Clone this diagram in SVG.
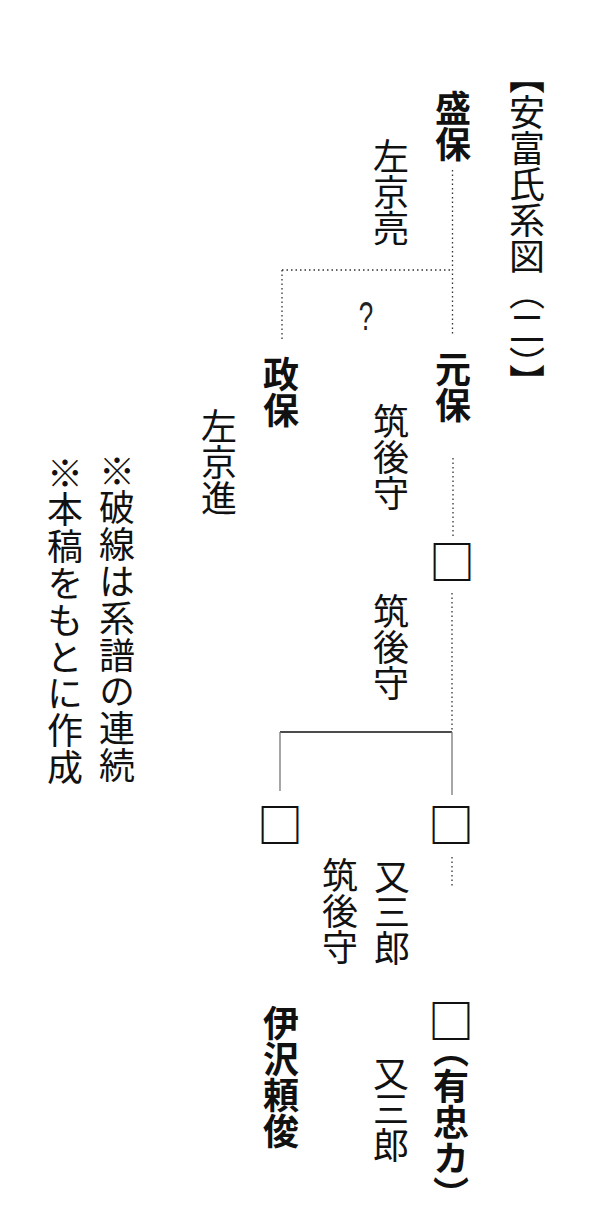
<svg xmlns="http://www.w3.org/2000/svg" width="598" height="1212" viewBox="0 0 598 1212">
<style>
.t{font-family:"Noto Sans CJK JP","Noto Sans CJK SC",sans-serif;font-size:36px;fill:#111;writing-mode:vertical-rl;}
.b{font-weight:700;}
.r{font-weight:400;}
.box{font-size:46px;}
.dot{stroke:#333;stroke-width:1.3;stroke-dasharray:1.5 3;fill:none;}
.solid{stroke:#111;stroke-width:1.6;fill:none;}
.thin{stroke:#777;stroke-width:1.3;fill:none;}
</style>
<rect width="598" height="1212" fill="#fff"/>
<g id="connectors">
<line class="dot" x1="452.5" y1="170" x2="452.5" y2="336"/>
<line class="dot" x1="282" y1="270" x2="452.5" y2="270"/>
<line class="dot" x1="282" y1="270" x2="282" y2="340"/>
<line class="dot" x1="453" y1="458" x2="453" y2="536"/>
<line class="dot" x1="452" y1="593" x2="452" y2="732"/>
<line class="solid" x1="280" y1="732" x2="452" y2="732"/>
<line class="thin" x1="452" y1="732" x2="452" y2="795"/>
<line class="thin" x1="280" y1="732" x2="280" y2="791"/>
<line class="dot" x1="452" y1="857" x2="452" y2="886"/>
</g>
<g id="title">
<text class="t r" x="527" y="58">【安富氏系図（二）】</text>
</g>
<g id="moriyasu">
<text class="t b" x="453" y="90">盛保</text>
<text class="t r" x="391" y="138">左京亮</text>
</g>
<g id="question">
<text transform="translate(366,330) scale(0.65,1)" x="0" y="0" font-family="Liberation Sans, sans-serif" font-size="40" text-anchor="middle" fill="#222">?</text>
</g>
<g id="motoyasu">
<text class="t b" x="453" y="351">元保</text>
<text class="t r" x="391" y="403">筑後守</text>
</g>
<g id="masayasu">
<text class="t b" x="281" y="356">政保</text>
<text class="t r" x="219" y="408">左京進</text>
</g>
<g id="box1">
<text class="t b box" x="452" y="539">□</text>
<text class="t r" x="391" y="593">筑後守</text>
</g>
<g id="box2">
<text class="t b box" x="451" y="802">□</text>
<text class="t r" x="392" y="858">又三郎</text>
</g>
<g id="box3">
<text class="t b box" x="280" y="802">□</text>
<text class="t r" x="340" y="857">筑後守</text>
</g>
<g id="box4">
<text class="t b" x="451" y="998"><tspan class="box" letter-spacing="-12">□</tspan>（有忠カ）</text>
<text class="t r" x="391" y="1055">又三郎</text>
</g>
<g id="izawa">
<text class="t b" x="281" y="1005">伊沢頼俊</text>
</g>
<g id="notes">
<text class="t r" x="117" y="453" letter-spacing="0.8">※破線は系譜の連続</text>
<text class="t r" x="65" y="455" letter-spacing="0.8">※本稿をもとに作成</text>
</g>
</svg>
